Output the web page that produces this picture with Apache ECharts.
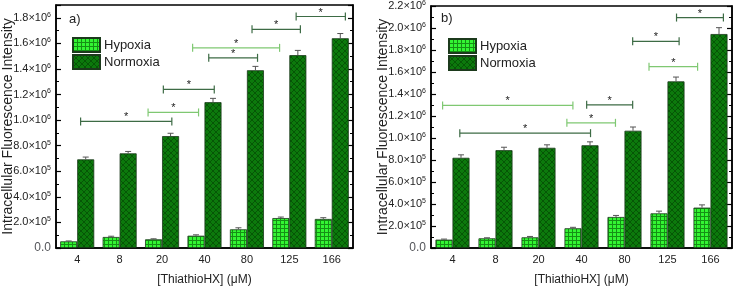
<!DOCTYPE html>
<html>
<head>
<meta charset="utf-8">
<script src="https://cdn.jsdelivr.net/npm/echarts@6/dist/echarts.min.js"></script>
<style>
  html, body { margin: 0; padding: 0; background: #fff; }
  #chart { width: 734px; height: 287px; }
</style>
</head>
<body>
<div id="chart"></div>
<script>
// data
const categories = ["4", "8", "20", "40", "80", "125", "166"];

const hypoxiaA = [52000, 86000, 68000, 96000, 146000, 234000, 227000];
const hypoxiaErrA = [3000, 6000, 4000, 7000, 12000, 8000, 10000];
const normoxiaA = [693000, 740000, 875000, 1140000, 1390000, 1508000, 1640000];
const normoxiaErrA = [18000, 15000, 22000, 30000, 30000, 37000, 37000];

const hypoxiaB = [76000, 88000, 97000, 179000, 282000, 315000, 367000];
const hypoxiaErrB = [5000, 5000, 8000, 9000, 14000, 20000, 25000];
const normoxiaB = [820000, 889000, 911000, 934000, 1066000, 1515000, 1945000];
const normoxiaErrB = [27000, 27000, 27000, 31000, 34000, 39000, 58000];

// significance brackets: [from (category units), to, level, kind]
const bracketsA = [
  [0.08, 2.23, 990000, "dark"],
  [1.67, 2.86, 1060000, "light"],
  [2.03, 3.23, 1240000, "dark"],
  [2.72, 4.77, 1565000, "light"],
  [3.10, 4.25, 1487000, "dark"],
  [4.12, 5.26, 1710000, "dark"],
  [5.16, 6.32, 1810000, "dark"]
];
const bracketsB = [
  [-0.23, 2.80, 1296000, "light"],
  [0.17, 3.21, 1044000, "dark"],
  [2.66, 3.79, 1138000, "light"],
  [3.12, 4.19, 1302000, "dark"],
  [4.57, 5.70, 1648000, "light"],
  [4.19, 5.27, 1879000, "dark"],
  [5.21, 6.30, 2095000, "dark"]
];

const FONT = "'Liberation Sans', Arial, sans-serif";
const BAR_W = 17;
const BRACKET_COLORS = { dark: "#3d6b45", light: "#7fc872" };

function makePattern(bg, line, size, draw) {
  const c = document.createElement("canvas");
  c.width = size;
  c.height = size;
  const ctx = c.getContext("2d");
  ctx.fillStyle = bg;
  ctx.fillRect(0, 0, size, size);
  ctx.strokeStyle = line;
  ctx.lineWidth = 1;
  draw(ctx, size);
  return { image: c, repeat: "repeat" };
}

const gridPattern = makePattern("#33f533", "#159015", 4, (ctx, s) => {
  ctx.beginPath();
  ctx.moveTo(0.5, 0); ctx.lineTo(0.5, s);
  ctx.moveTo(0, 0.5); ctx.lineTo(s, 0.5);
  ctx.stroke();
});
const hatchPattern = makePattern("#0c790c", "#065606", 6, (ctx, s) => {
  ctx.beginPath();
  ctx.moveTo(0, 0); ctx.lineTo(s, s);
  ctx.moveTo(s, 0); ctx.lineTo(0, s);
  ctx.stroke();
});

function sciLabel(value) {
  if (value === 0) return "0.0";
  if (Math.abs(value / 200000 - Math.round(value / 200000)) > 1e-6) return "";
  const exp = Math.floor(Math.log10(value));
  const m = (value / Math.pow(10, exp)).toFixed(1);
  return "{m|" + m + "×10}{s|" + exp + "}";
}

function yAxes(gridIndex, max) {
  const common = {
    type: "value",
    gridIndex,
    min: 0,
    max,
    interval: 200000,
    splitLine: { show: false },
    axisLine: { show: true, onZero: false, lineStyle: { color: "#000", width: 1.5 } },
    axisTick: { show: true, inside: true, length: 5, lineStyle: { color: "#000", width: 1.2 } },
    minorTick: { show: true, splitNumber: 2, length: 3, lineStyle: { color: "#000", width: 1 } }
  };
  return [
    {
      ...common,
      position: "left",
      name: "Intracellular Fluorescence Intensity",
      nameLocation: "middle",
      nameGap: 41,
      nameMoveOverlap: false,
      nameTextStyle: { fontFamily: FONT, fontSize: 14, color: "#222" },
      axisLabel: {
        margin: 5,
        formatter: sciLabel,
        rich: {
          m: { fontFamily: FONT, fontSize: 11, color: "#222" },
          s: { fontFamily: FONT, fontSize: 7, color: "#222", padding: [0, 0, 6, 0] }
        }
      }
    },
    { ...common, position: "right", axisLabel: { show: false } }
  ];
}

function xAxes(gridIndex) {
  return [
    {
      type: "category",
      gridIndex,
      data: categories,
      name: "[ThiathioHX] (μM)",
      nameLocation: "middle",
      nameGap: 26,
      nameMoveOverlap: false,
      nameTextStyle: { fontFamily: FONT, fontSize: 12, color: "#222" },
      axisLine: { onZero: false, lineStyle: { color: "#000", width: 1.5 } },
      axisTick: { inside: true, length: 4, lineStyle: { color: "#000", width: 1.2 } },
      axisLabel: { fontFamily: FONT, fontSize: 11, color: "#222", margin: 6 }
    },
    { type: "value", gridIndex, min: -0.5, max: 6.5, show: false }
  ];
}

function barSeries(name, data, color, xAxisIndex, yAxisIndex) {
  return {
    name,
    type: "bar",
    xAxisIndex,
    yAxisIndex,
    data,
    barWidth: BAR_W,
    barGap: "0%",
    itemStyle: { color, borderColor: "#1c3a1c", borderWidth: 0.8 },
    z: 2
  };
}

function errorSeries(values, errs, side, xAxisIndex, yAxisIndex) {
  return {
    type: "custom",
    xAxisIndex,
    yAxisIndex,
    z: 4,
    silent: true,
    data: values.map((v, i) => [categories[i], v, v + errs[i]]),
    renderItem(params, api) {
      const base = api.coord([api.value(0), api.value(1)]);
      const top = api.coord([api.value(0), api.value(2)]);
      const x = base[0] + side * BAR_W / 2;
      const style = { stroke: "#555", lineWidth: 1 };
      return {
        type: "group",
        children: [
          { type: "line", shape: { x1: x, y1: base[1], x2: x, y2: top[1] }, style },
          { type: "line", shape: { x1: x - 3, y1: top[1], x2: x + 3, y2: top[1] }, style }
        ]
      };
    }
  };
}

function bracketSeries(brackets, xAxisIndex, yAxisIndex) {
  return {
    type: "custom",
    xAxisIndex,
    yAxisIndex,
    z: 5,
    silent: true,
    data: brackets.map((b) => [b[0], b[1], b[2], b[3]]),
    renderItem(params, api) {
      const b = brackets[params.dataIndex];
      const p1 = api.coord([b[0], b[2]]);
      const p2 = api.coord([b[1], b[2]]);
      const color = BRACKET_COLORS[b[3]];
      const style = { stroke: color, lineWidth: 1.2 };
      return {
        type: "group",
        children: [
          { type: "line", shape: { x1: p1[0], y1: p1[1], x2: p2[0], y2: p2[1] }, style },
          { type: "line", shape: { x1: p1[0], y1: p1[1] - 4, x2: p1[0], y2: p1[1] + 4 }, style },
          { type: "line", shape: { x1: p2[0], y1: p2[1] - 4, x2: p2[0], y2: p2[1] + 4 }, style },
          {
            type: "text",
            style: {
              x: (p1[0] + p2[0]) / 2,
              y: p1[1] - 4,
              text: "*",
              fill: "#222",
              font: "11px " + FONT,
              align: "center",
              verticalAlign: "middle"
            }
          }
        ]
      };
    }
  };
}

function legend(left, top) {
  return {
    left,
    top,
    orient: "vertical",
    icon: "rect",
    itemWidth: 27,
    itemHeight: 14,
    itemGap: 1,
    padding: 0,
    selectedMode: false,
    data: ["Hypoxia", "Normoxia"],
    textStyle: { fontFamily: FONT, fontSize: 13, color: "#222", padding: [0, 0, 0, -1] }
  };
}

const chart = echarts.init(document.getElementById("chart"), null, { renderer: "canvas" });

const gridBase = { show: true, borderColor: "#000", borderWidth: 1.5, containLabel: false, outerBoundsMode: "none" };

chart.setOption({
  animation: false,
  backgroundColor: "#fff",
  grid: [
    { ...gridBase, left: 56, top: 5, width: 297, height: 243 },
    { ...gridBase, left: 431, top: 6, width: 301, height: 242 }
  ],
  xAxis: [...xAxes(0), ...xAxes(1)],
  yAxis: [...yAxes(0, 1900000), ...yAxes(1, 2200000)],
  legend: [legend(72, 37), legend(448, 38)],
  graphic: [
    { type: "text", left: 69, top: 13, style: { text: "a)", font: "13px " + FONT, fill: "#222" } },
    { type: "text", left: 441, top: 12, style: { text: "b)", font: "13px " + FONT, fill: "#222" } }
  ],
  series: [
    barSeries("Hypoxia", hypoxiaA, gridPattern, 0, 0),
    barSeries("Normoxia", normoxiaA, hatchPattern, 0, 0),
    errorSeries(hypoxiaA, hypoxiaErrA, -1, 0, 0),
    errorSeries(normoxiaA, normoxiaErrA, 1, 0, 0),
    bracketSeries(bracketsA, 1, 0),

    barSeries("Hypoxia", hypoxiaB, gridPattern, 2, 2),
    barSeries("Normoxia", normoxiaB, hatchPattern, 2, 2),
    errorSeries(hypoxiaB, hypoxiaErrB, -1, 2, 2),
    errorSeries(normoxiaB, normoxiaErrB, 1, 2, 2),
    bracketSeries(bracketsB, 3, 2)
  ]
});
</script>
</body>
</html>
